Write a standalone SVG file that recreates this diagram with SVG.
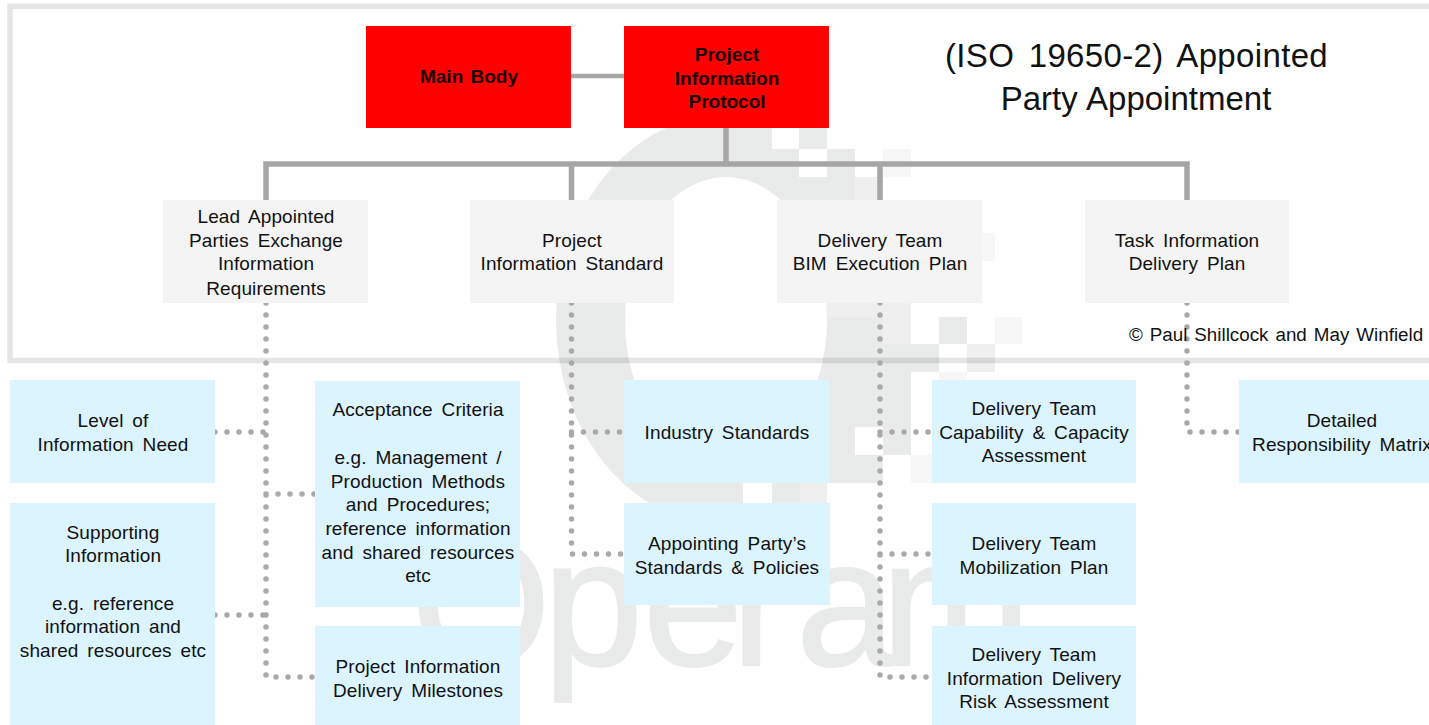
<svg xmlns="http://www.w3.org/2000/svg" width="1429" height="725" viewBox="0 0 1429 725">
<style>
text{font-family:"Liberation Sans",Arial,sans-serif;font-size:19px;fill:#111;word-spacing:3.500px;letter-spacing:.1px;text-anchor:middle}
.b{font-weight:bold;fill:#1a0000;word-spacing:2px;letter-spacing:0}
.t{font-size:33px}
.c{font-size:18.800px;word-spacing:1.800px;letter-spacing:0}
.red{fill:#ff0000}.grey{fill:#f4f4f4}.blue{fill:#dcf4fe}
.solid{fill:none;stroke:#a6a6a6;stroke-width:5.500}
.dot{fill:none;stroke:#a9a9a9;stroke-width:5.500;stroke-linecap:round;stroke-dasharray:0 12}
.wm{fill:#e9eaea}.w2{fill:#efefef}.w3{fill:#f7f7f7}.wh{fill:#fff}
.wt{font-size:180px;fill:#e9eaea;stroke:#e9eaea;stroke-width:2;text-anchor:start;word-spacing:0;letter-spacing:0}
</style>
<defs><clipPath id="ringclip"><rect x="500" y="100" width="327" height="440"/></clipPath></defs>
<g id="watermark">
<path class="wm" clip-path="url(#ringclip)" fill-rule="evenodd" d="M556 320A170 205 0 1 1 896 320A170 205 0 1 1 556 320ZM625 320A101 143 0 1 0 827 320A101 143 0 1 0 625 320Z"/>
<rect class="wh" x="772" y="128" width="27" height="21"/>
<rect class="wm" x="799" y="128" width="28" height="21"/>
<rect class="wh" x="799" y="149" width="28" height="28"/>
<rect class="wm" x="827" y="149" width="28" height="60"/>
<rect class="w3" x="883" y="149" width="28" height="28"/>
<rect class="w2" x="855" y="177" width="28" height="30"/>
<rect class="w3" x="967" y="233" width="28" height="28"/>
<rect class="w2" x="827" y="303" width="84" height="14"/>
<rect class="wm" x="827" y="317" width="56" height="27"/>
<rect class="w2" x="883" y="317" width="28" height="27"/>
<rect class="wm" x="939" y="317" width="28" height="27"/>
<rect class="w3" x="995" y="317" width="27" height="27"/>
<rect class="wm" x="827" y="344" width="112" height="28"/>
<rect class="w2" x="967" y="344" width="28" height="28"/>
<rect class="wm" x="825" y="372" width="86" height="55"/>
<rect class="w3" x="939" y="372" width="28" height="8"/>
<rect class="wm" x="827" y="427" width="28" height="56"/>
<rect class="wm" x="855" y="455" width="28" height="28"/>
<rect class="wm" x="883" y="427" width="28" height="28"/>
<rect class="w3" x="911" y="455" width="21" height="28"/>
<rect class="wh" x="743" y="483" width="29" height="20"/>
<rect class="wm" x="772" y="483" width="28" height="20"/>
<rect class="w2" x="800" y="483" width="27" height="20"/>
<text class="wt" y="665" x="411 543 643 731 796 881">Operam</text>
</g>
<path id="frame" d="M1432 6.300H10V360.500H1432" fill="none" stroke="#000" stroke-opacity=".1" stroke-width="5.500"/>
<g id="connectors">
<path class="solid" style="stroke-width:4.500" d="M571 76H624"/>
<path class="solid" d="M726 128V164M266 200V164H1187V200M571.500 164V200M880 164V200"/>
<path class="dot" d="M266 303V677H315M215 432H266M266 494H315M215 615H266"/>
<path class="dot" d="M571.500 303V554H624M571.500 432H624"/>
<path class="dot" d="M880 303V677H932M880 432H932M880 554H932"/>
<path class="dot" d="M1187 303V432H1239"/>
</g>
<g id="main-body"><rect class="red" x="366" y="26" width="205" height="102"/><text class="b" x="469" y="83">Main Body</text></g>
<g id="pip"><rect class="red" x="624" y="26" width="205" height="102"/><text class="b" x="727" y="61">Project</text><text class="b" x="727" y="85">Information</text><text class="b" x="727" y="108">Protocol</text></g>
<g id="title"><text class="t" x="1136.500" y="67" style="word-spacing:5px;letter-spacing:.35px">(ISO 19650-2) Appointed</text><text class="t" x="1136" y="110" style="word-spacing:1px;letter-spacing:0">Party Appointment</text></g>
<g id="lead"><rect class="grey" x="163" y="200" width="205" height="103"/><text x="266" y="223">Lead Appointed</text><text x="266" y="247">Parties Exchange</text><text x="266" y="270">Information</text><text x="266" y="295">Requirements</text></g>
<g id="standard"><rect class="grey" x="470" y="200" width="204" height="103"/><text x="572" y="247">Project</text><text x="572" y="270">Information Standard</text></g>
<g id="bep"><rect class="grey" x="777" y="200" width="205" height="103"/><text x="880" y="247">Delivery Team</text><text x="880" y="270">BIM Execution Plan</text></g>
<g id="tidp"><rect class="grey" x="1085" y="200" width="204" height="103"/><text x="1187" y="247">Task Information</text><text x="1187" y="270">Delivery Plan</text></g>
<g id="level"><rect class="blue" x="10" y="380" width="205" height="103"/><text x="113" y="427">Level of</text><text x="113" y="451">Information Need</text></g>
<g id="acceptance"><rect class="blue" x="315" y="381" width="205" height="226"/><text x="418" y="416">Acceptance Criteria</text><text x="418" y="464">e.g. Management /</text><text x="418" y="488">Production Methods</text><text x="418" y="511">and Procedures;</text><text x="418" y="535">reference information</text><text x="418" y="559">and shared resources</text><text x="418" y="582">etc</text></g>
<g id="industry"><rect class="blue" x="624" y="380" width="206" height="103"/><text x="727" y="439">Industry Standards</text></g>
<g id="capability"><rect class="blue" x="932" y="380" width="204" height="103"/><text x="1034" y="415">Delivery Team</text><text x="1034" y="439">Capability &amp; Capacity</text><text x="1034" y="462">Assessment</text></g>
<g id="matrix"><rect class="blue" x="1239" y="380" width="200" height="103"/><text x="1342" y="427">Detailed</text><text x="1342" y="451">Responsibility Matrix</text></g>
<g id="supporting"><rect class="blue" x="10" y="503" width="205" height="222"/><text x="113" y="539">Supporting</text><text x="113" y="562">Information</text><text x="113" y="610">e.g. reference</text><text x="113" y="633">information and</text><text x="113" y="657">shared resources etc</text></g>
<g id="policies"><rect class="blue" x="624" y="503" width="206" height="102"/><text x="727" y="550">Appointing Party’s</text><text x="727" y="574">Standards &amp; Policies</text></g>
<g id="mobilization"><rect class="blue" x="932" y="503" width="204" height="102"/><text x="1034" y="550">Delivery Team</text><text x="1034" y="574">Mobilization Plan</text></g>
<g id="milestones"><rect class="blue" x="315" y="626" width="205" height="99"/><text x="418" y="673">Project Information</text><text x="418" y="697">Delivery Milestones</text></g>
<g id="risk"><rect class="blue" x="932" y="626" width="204" height="99"/><text x="1034" y="661">Delivery Team</text><text x="1034" y="685">Information Delivery</text><text x="1034" y="708">Risk Assessment</text></g>
<text class="c" x="1276" y="341">© Paul Shillcock and May Winfield</text>
</svg>
